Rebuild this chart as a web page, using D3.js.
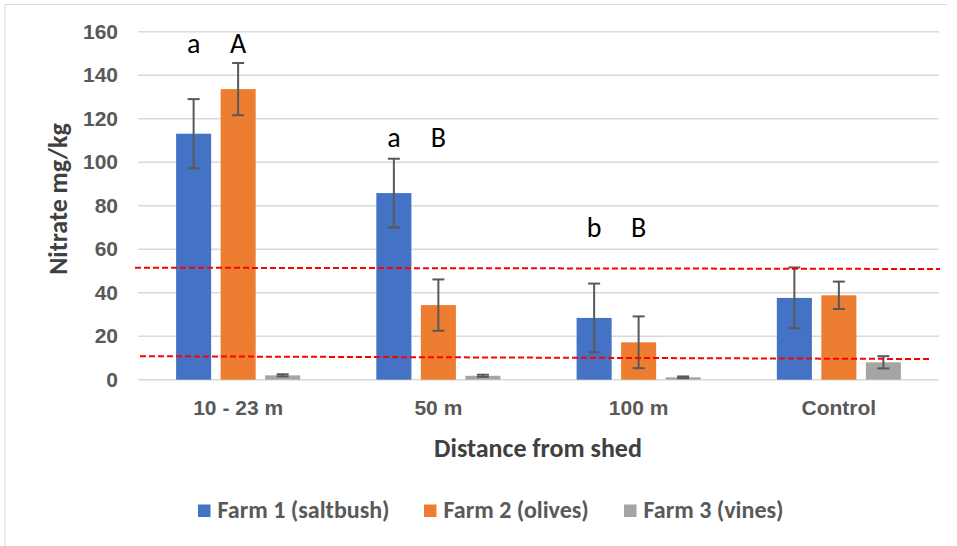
<!DOCTYPE html>
<html>
<head>
<meta charset="utf-8">
<script src="https://cdn.jsdelivr.net/npm/d3@7"></script>
<style>
  html, body { margin: 0; padding: 0; background: #fff; }
  svg { display: block; font-family: Carlito, Lato, "Open Sans", sans-serif; }
</style>
</head>
<body>
<svg id="chart" width="957" height="546"></svg>
<script>
// data
const categories = ["10 - 23 m", "50 m", "100 m", "Control"];
const seriesNames = ["Farm 1 (saltbush)", "Farm 2 (olives)", "Farm 3 (vines)"];
const farm1 = [113.1, 85.8, 28.4, 37.6];
const farm2 = [133.6, 34.3, 17.2, 38.8];
const farm3 = [2.0, 1.8, 1.1, 8.0];
const farm1Err = [15.9, 15.8, 15.8, 14.0];
const farm2Err = [12.0, 11.8, 11.9, 6.3];
const farm3Err = [0.5, 0.5, 0.4, 2.8];
const yTicks = [0, 20, 40, 60, 80, 100, 120, 140, 160];
// significance letters: [category, series, letter, height]
const letters = [
  ["10 - 23 m", 0, "a", 150], ["10 - 23 m", 1, "A", 150],
  ["50 m", 0, "a", 107], ["50 m", 1, "B", 107],
  ["100 m", 0, "b", 65.6], ["100 m", 1, "B", 65.6]
];
// red dashed reference lines, value at left end / right end
const refUpper = [51.5, 50.9];
const refLower = [10.8, 9.5];

const colors = ["#4472C4", "#ED7D31", "#A5A5A5"];
const values = [farm1, farm2, farm3];
const errs = [farm1Err, farm2Err, farm3Err];

const svg = d3.select("#chart");
const m = {l: 138, r: 18, t: 31.7, b: 166.3};
const W = 957 - m.l - m.r, H = 546 - m.t - m.b;

// outer frame (only top and left edges show)
svg.append("path").attr("d", "M5,546V4.5H947")
  .attr("fill", "none").attr("stroke", "#d9d9d9").attr("stroke-width", 1);

const g = svg.append("g").attr("transform", `translate(${m.l},${m.t})`);

const x = d3.scaleBand().domain(categories).range([0, W]);
const y = d3.scaleLinear().domain([0, 160]).range([H, 0]);
const barW = x.bandwidth() * 0.175;
const step = barW * 1.27;
const barX = (c, s) => x(c) + x.bandwidth() / 2 + (s - 1) * step - barW / 2;

// gridlines
g.append("g").selectAll("line").data(yTicks).join("line")
  .attr("x1", 0).attr("x2", W)
  .attr("y1", d => y(d)).attr("y2", d => y(d))
  .attr("stroke", "#d9d9d9").attr("stroke-width", 1.5);

// y axis labels
const yAxis = g.append("g").call(d3.axisLeft(y).tickValues(yTicks).tickSize(0).tickPadding(20));
yAxis.select(".domain").remove();
yAxis.selectAll("text").attr("font-family", null).attr("font-size", 21).attr("font-weight", "bold")
  .attr("fill", "#595959");

// bars
values.forEach((vals, s) => {
  g.append("g").selectAll("rect").data(categories).join("rect")
    .attr("x", (c) => barX(c, s))
    .attr("width", barW)
    .attr("y", (c, i) => y(vals[i]))
    .attr("height", (c, i) => H - y(vals[i]))
    .attr("fill", colors[s]);
});

// error bars
values.forEach((vals, s) => {
  const eg = g.append("g").attr("stroke", "#595959").attr("stroke-width", 2);
  categories.forEach((c, i) => {
    const cx = barX(c, s) + barW / 2;
    const lo = y(vals[i] - errs[s][i]), hi = y(vals[i] + errs[s][i]);
    eg.append("line").attr("x1", cx).attr("x2", cx).attr("y1", lo).attr("y2", hi);
    eg.append("line").attr("x1", cx - 6).attr("x2", cx + 6).attr("y1", lo).attr("y2", lo);
    eg.append("line").attr("x1", cx - 6).attr("x2", cx + 6).attr("y1", hi).attr("y2", hi);
  });
});

// red dashed reference lines
[[refUpper, -3, 1], [refLower, 2, -8]].forEach(([v, x0, x1]) => {
  g.append("line")
    .attr("x1", x0).attr("x2", W + x1)
    .attr("y1", y(v[0])).attr("y2", y(v[1]))
    .attr("stroke", "#FF0000").attr("stroke-width", 2).attr("stroke-dasharray", "6,3");
});

// significance letters
g.append("g").selectAll("text").data(letters).join("text")
  .attr("x", d => barX(d[0], d[1]) + barW / 2)
  .attr("y", d => y(d[3]))
  .attr("text-anchor", "middle")
  .attr("font-size", 28).attr("fill", "#000")
  .text(d => d[2]);

// x axis labels
const xAxis = g.append("g").attr("transform", `translate(0,${H})`)
  .call(d3.axisBottom(x).tickSize(0).tickPadding(20));
xAxis.select(".domain").remove();
xAxis.selectAll("text").attr("font-family", null).attr("font-size", 21).attr("font-weight", "bold")
  .attr("fill", "#595959");

// axis titles
svg.append("text").attr("x", 538).attr("y", 457).attr("text-anchor", "middle")
  .attr("font-size", 26).attr("font-weight", "bold").attr("fill", "#404040")
  .text("Distance from shed");
svg.append("text").attr("transform", "translate(67,199) rotate(-90)").attr("text-anchor", "middle")
  .attr("font-size", 26).attr("font-weight", "bold").attr("fill", "#404040")
  .text("Nitrate mg/kg");

// legend
const legX = [198, 424, 624];
const leg = svg.append("g").selectAll("g").data(seriesNames).join("g")
  .attr("transform", (d, i) => `translate(${legX[i]},504.5)`);
leg.append("rect").attr("width", 12.5).attr("height", 12.5).attr("fill", (d, i) => colors[i]);
leg.append("text").attr("x", 19.5).attr("y", 13)
  .attr("font-size", 24).attr("font-weight", "bold").attr("fill", "#595959")
  .text(d => d);
</script>
</body>
</html>
